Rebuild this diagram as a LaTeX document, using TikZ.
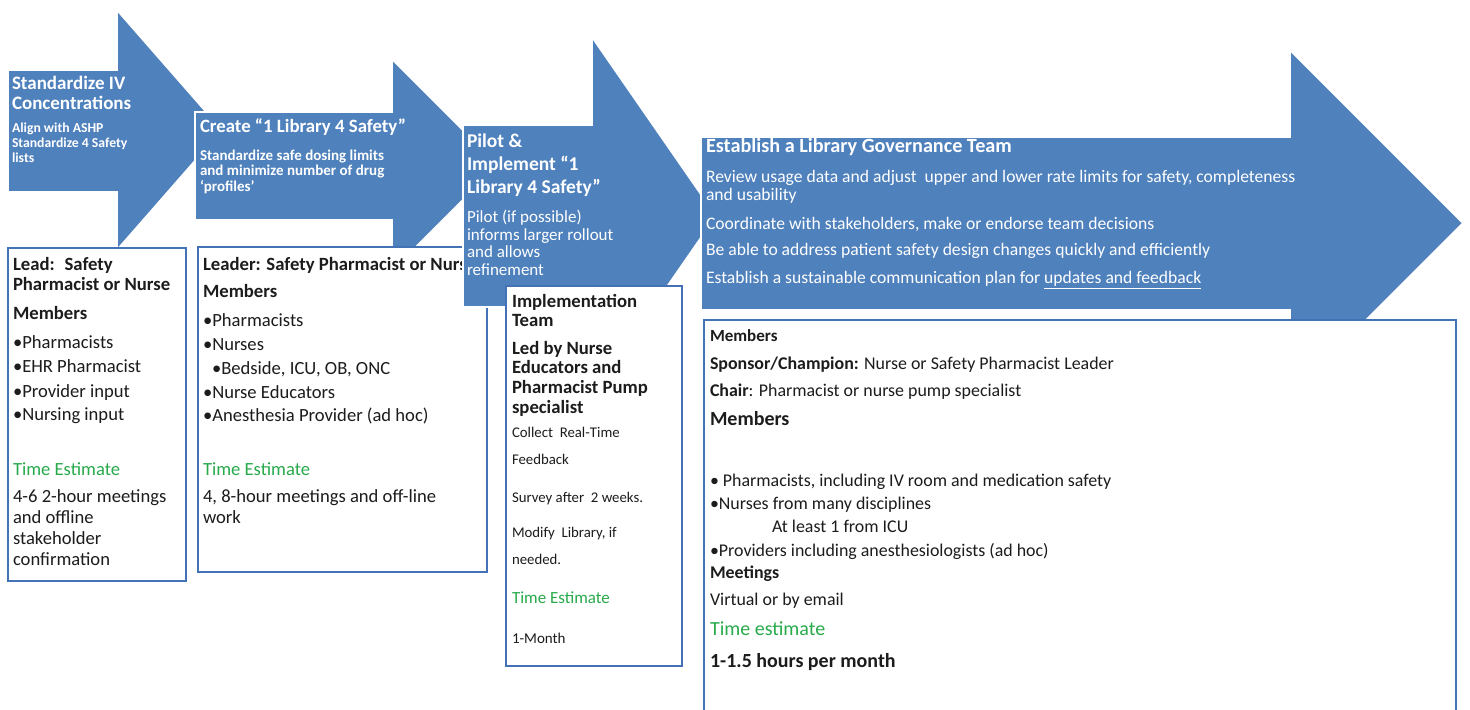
\documentclass[tikz,border=0pt]{standalone}
\usepackage{fontspec}
\setmainfont{Carlito}
\definecolor{ablue}{RGB}{79,129,189}
\definecolor{bblue}{RGB}{68,114,182}
\definecolor{ink}{RGB}{28,28,28}
\definecolor{tgreen}{RGB}{40,170,75}
\newcommand{\fsz}[1]{\fontsize{#1}{#1}\selectfont}
\begin{document}
\begin{tikzpicture}[x=0.5pt,y=-0.5pt,
  ln/.style={anchor=base west, inner sep=0pt, outer sep=0pt},
  wt/.style={ln, text=white},
  dk/.style={ln, text=ink},
  gr/.style={ln, text=tgreen},
  arrowshape/.style={fill=ablue, draw=white, line width=0.9pt, line join=miter},
  panel/.style={fill=white, draw=bblue, line width=1.4pt},
  wtitle/.style={wt, font=\bfseries\fsz{9.5pt}},
  wsubb/.style={wt, font=\bfseries\fsz{6.85pt}},
  dbold/.style={dk, font=\bfseries\fsz{9.35pt}},
  dreg/.style={dk, font=\fsz{9.3pt}},
  greg/.style={gr, font=\fsz{9.3pt}},
]
\useasboundingbox (0,0) rectangle (1470,709);
\clip (0,0) rectangle (1470,709);

% ---------- Step 1 ----------
\fill[arrowshape] (8,70) -- (117,70) -- (117,10) -- (222,130) -- (117,250) -- (117,192) -- (8,192) -- cycle;
\node[wtitle] (a1a) at (12,89) {Standardize IV};
\node[wtitle] (a1b) at (12,109) {Concentrations};
\node[wsubb] (a1c) at (12,132) {Align with ASHP};
\node[wsubb] (a1d) at (12,147) {Standardize 4 Safety};
\node[wsubb] (a1e) at (12,162) {lists};

\draw[panel] (8,248) rectangle (186,581);
\node[dbold] (b1a) at (13,270) {Lead: \ Safety};
\node[dbold] (b1b) at (13,290) {Pharmacist or Nurse};
\node[dbold] (b1c) at (13,319) {Members};
\node[dreg] (b1d) at (13,348) {•Pharmacists};
\node[dreg] (b1e) at (13,372) {•EHR Pharmacist};
\node[dreg] (b1f) at (13,397) {•Provider input};
\node[dreg] (b1g) at (13,420) {•Nursing input};
\node[greg] (b1h) at (13,475) {Time Estimate};
\node[dreg] (b1i) at (13,502) {4-6 2-hour meetings};
\node[dreg] (b1j) at (13,523) {and offline};
\node[dreg] (b1k) at (13,544) {stakeholder};
\node[dreg] (b1l) at (13,565) {confirmation};

% ---------- Step 2 ----------
\fill[arrowshape] (195,112) -- (392,112) -- (392,59) -- (498,165) -- (392,271) -- (392,220) -- (195,220) -- cycle;
\node[wt, font=\bfseries\fsz{9.4pt}] (a2a) at (200,132) {Create “1 Library 4 Safety”};
\node[wt, font=\bfseries\fsz{7.5pt}] (a2b) at (200,160) {Standardize safe dosing limits};
\node[wt, font=\bfseries\fsz{7.5pt}] (a2c) at (200,175) {and minimize number of drug};
\node[wt, font=\bfseries\fsz{7.5pt}] (a2d) at (200,191) {‘profiles’};

\draw[panel] (198,247) rectangle (487,572);
\node[dbold] (b2a) at (203,270) {Leader: Safety Pharmacist or Nurse};
\node[dbold] (b2b) at (203,297) {Members};
\node[dreg] (b2c) at (203,326) {•Pharmacists};
\node[dreg] (b2d) at (203,350) {•Nurses};
\node[dreg] (b2e) at (212,374) {•Bedside, ICU, OB, ONC};
\node[dreg] (b2f) at (203,398) {•Nurse Educators};
\node[dreg] (b2g) at (203,421) {•Anesthesia Provider (ad hoc)};
\node[greg] (b2h) at (203,475) {Time Estimate};
\node[dreg] (b2i) at (203,502) {4, 8-hour meetings and off-line};
\node[dreg] (b2j) at (203,523) {work};

% ---------- Step 3 ----------
\fill[arrowshape] (463,125) -- (592,125) -- (592,37) -- (716,216) -- (592,395) -- (592,307) -- (463,307) -- cycle;
\node[wt, font=\bfseries\fsz{9.75pt}] (a3a) at (467,147) {Pilot \&};
\node[wt, font=\bfseries\fsz{9.75pt}] (a3b) at (467,170) {Implement “1};
\node[wt, font=\bfseries\fsz{9.75pt}] (a3c) at (467,193) {Library 4 Safety”};
\node[wt, font=\fsz{8.5pt}] (a3d) at (467,222) {Pilot (if possible)};
\node[wt, font=\fsz{8.5pt}] (a3e) at (467,240) {informs larger rollout};
\node[wt, font=\fsz{8.5pt}] (a3f) at (467,257) {and allows};
\node[wt, font=\fsz{8.5pt}] (a3g) at (467,275) {refinement};

\draw[panel] (506,286) rectangle (682,666);
\node[dbold] (b3a) at (512,307) {Implementation};
\node[dbold] (b3b) at (512,326) {Team};
\node[dbold] (b3c) at (512,354) {Led by Nurse};
\node[dbold] (b3d) at (512,373) {Educators and};
\node[dbold] (b3e) at (512,393) {Pharmacist Pump};
\node[dbold] (b3f) at (512,413) {specialist};
\node[dk, font=\fsz{7.4pt}] (b3g) at (512,437) {Collect \ Real-Time};
\node[dk, font=\fsz{7.4pt}] (b3h) at (512,464) {Feedback};
\node[dk, font=\fsz{7.4pt}] (b3i) at (512,502) {Survey after \ 2 weeks.};
\node[dk, font=\fsz{7.4pt}] (b3j) at (512,537) {Modify \ Library, if};
\node[dk, font=\fsz{7.4pt}] (b3k) at (512,564) {needed.};
\node[gr, font=\fsz{8.5pt}] (b3l) at (512,603) {Time Estimate};
\node[dk, font=\fsz{7.5pt}] (b3m) at (512,643) {1-Month};

% ---------- Step 4 ----------
\fill[arrowshape] (701,137) -- (1290,137) -- (1290,50) -- (1463,223) -- (1290,396) -- (1290,310) -- (701,310) -- cycle;
\node[wt, font=\bfseries\fsz{10.1pt}] (a4a) at (706,152) {Establish a Library Governance Team};
\node[wt, font=\fsz{8.8pt}] (a4b) at (706,182) {Review usage data and adjust \ upper and lower rate limits for safety, completeness};
\node[wt, font=\fsz{8.8pt}] (a4c) at (706,200) {and usability};
\node[wt, font=\fsz{8.8pt}] (a4d) at (706,229) {Coordinate with stakeholders, make or endorse team decisions};
\node[wt, font=\fsz{8.8pt}] (a4e) at (706,255) {Be able to address patient safety design changes quickly and efficiently};
\node[wt, font=\fsz{8.8pt}] (a4f) at (706,283) {Establish a sustainable communication plan for \underline{updates and feedback}};

\draw[panel] (704,320) rectangle (1456,740);
\node[dk, font=\bfseries\fsz{8.5pt}] (b4a) at (710,341) {Members};
\node[dk, font=\fsz{8.95pt}] (b4b) at (710,369) {\textbf{Sponsor/Champion:} Nurse or Safety Pharmacist Leader};
\node[dk, font=\fsz{8.95pt}] (b4c) at (710,396) {\textbf{Chair}: Pharmacist or nurse pump specialist};
\node[dk, font=\bfseries\fsz{10pt}] (b4d) at (710,425) {Members};
\node[dk, font=\fsz{8.95pt}] (b4e) at (710,486) {• Pharmacists, including IV room and medication safety};
\node[dk, font=\fsz{8.95pt}] (b4f) at (710,509) {•Nurses from many disciplines};
\node[dk, font=\fsz{8.95pt}] (b4g) at (772,532) {At least 1 from ICU};
\node[dk, font=\fsz{8.95pt}] (b4h) at (710,556) {•Providers including anesthesiologists (ad hoc)};
\node[dk, font=\bfseries\fsz{8.95pt}] (b4i) at (710,578) {Meetings};
\node[dk, font=\fsz{8.95pt}] (b4j) at (710,605) {Virtual or by email};
\node[gr, font=\fsz{10pt}] (b4k) at (710,635) {Time estimate};
\node[dk, font=\bfseries\fsz{10pt}] (b4l) at (710,667) {1-1.5 hours per month};
\end{tikzpicture}
\end{document}
